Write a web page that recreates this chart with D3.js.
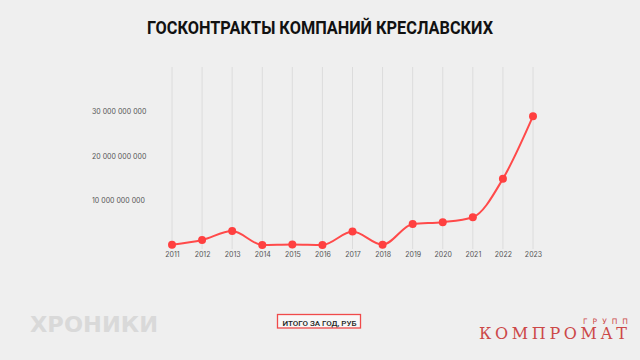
<!DOCTYPE html>
<html><head><meta charset="utf-8">
<script src="https://cdn.jsdelivr.net/npm/d3@7"></script>
<style>body{margin:0;background:#efefef;}svg{display:block;}</style>
</head><body>
<svg id="c" width="640" height="360"></svg>
<script>
const years = ["2011","2012","2013","2014","2015","2016","2017","2018","2019","2020","2021","2022","2023"];
const totals = [0.15e9, 1.2e9, 3.2e9, 0.1e9, 0.2e9, 0.1e9, 3.1e9, 0.15e9, 4.8e9, 5.2e9, 6.3e9, 14.9e9, 28.9e9];
const yTicks = [10e9, 20e9, 30e9];
const title = "ГОСКОНТРАКТЫ КОМПАНИЙ КРЕСЛАВСКИХ";
const legendLabel = "ИТОГО ЗА ГОД, РУБ";

const svg = d3.select("#c");
svg.append("rect").attr("width",640).attr("height",360).attr("fill","#efefef");

const x = d3.scalePoint().domain(years).range([172,533]);
const y = d3.scaleLinear().domain([0,30e9]).range([245.4,111.3]);

svg.append("text").attr("x",320).attr("y",33.5).attr("text-anchor","middle")
  .attr("font-family","Roboto").attr("font-weight","bold").attr("font-size",17.5)
  .attr("textLength",346).attr("lengthAdjust","spacingAndGlyphs")
  .attr("fill","#111").text(title);

// vertical grid
svg.append("g").selectAll("line").data(years).join("line")
  .attr("x1",d=>x(d)).attr("x2",d=>x(d)).attr("y1",67).attr("y2",249)
  .attr("stroke","#dcdcdc").attr("stroke-width",1);

// y labels
const fmt = v => d3.format(",")(v).replace(/,/g," ");
svg.append("g").selectAll("text").data(yTicks).join("text")
  .attr("x",92).attr("y",d=>y(d)+2.5)
  .attr("font-family","Inter").attr("font-size",7).attr("fill","#555")
  .text(fmt);

// x axis labels
const xAxis = d3.axisBottom(x).tickSize(0).tickPadding(0);
const gx = svg.append("g").attr("transform","translate(0,252)").call(xAxis);
gx.select(".domain").remove();
gx.selectAll("text").attr("font-family","Inter").attr("font-size",7).attr("fill","#555");

const data = years.map((d,i)=>({year:d,v:totals[i]}));
const line = d3.line().x(d=>x(d.year)).y(d=>y(d.v)).curve(d3.curveMonotoneX);
svg.append("path").datum(data).attr("d",line).attr("fill","none")
  .attr("stroke","#ff4a4a").attr("stroke-width",2);
svg.append("g").selectAll("circle").data(data).join("circle")
  .attr("cx",d=>x(d.year)).attr("cy",d=>y(d.v)).attr("r",4).attr("fill","#ff4040");

// legend
svg.append("rect").attr("x",277.5).attr("y",314.5).attr("width",83).attr("height",13.5)
  .attr("fill","#f7f7f7").attr("stroke","#f04a4a").attr("stroke-width",1.3);
svg.append("text").attr("x",319.5).attr("y",325.5).attr("text-anchor","middle")
  .attr("font-family","Roboto").attr("font-weight","500").attr("font-size",7.5)
  .attr("textLength",74).attr("lengthAdjust","spacingAndGlyphs")
  .attr("fill","#222").text(legendLabel);

// logos
svg.append("text").attr("x",30).attr("y",332).attr("font-family","DejaVu Sans").attr("font-weight","bold")
  .attr("font-size",22).attr("textLength",128).attr("lengthAdjust","spacingAndGlyphs")
  .attr("fill","#d9d9d9").text("ХРОНИКИ");
svg.append("text").attr("x",479).attr("y",339).attr("font-family","DejaVu Serif")
  .attr("font-size",16).attr("textLength",148).attr("lengthAdjust","spacing")
  .attr("fill","#cc4848").text("КОМПРОМАТ");
svg.append("text").attr("x",583).attr("y",323.5).attr("font-family","DejaVu Sans")
  .attr("font-size",7.5).attr("textLength",45).attr("lengthAdjust","spacing")
  .attr("fill","#cc4848").text("ГРУПП");
</script>
</body></html>
